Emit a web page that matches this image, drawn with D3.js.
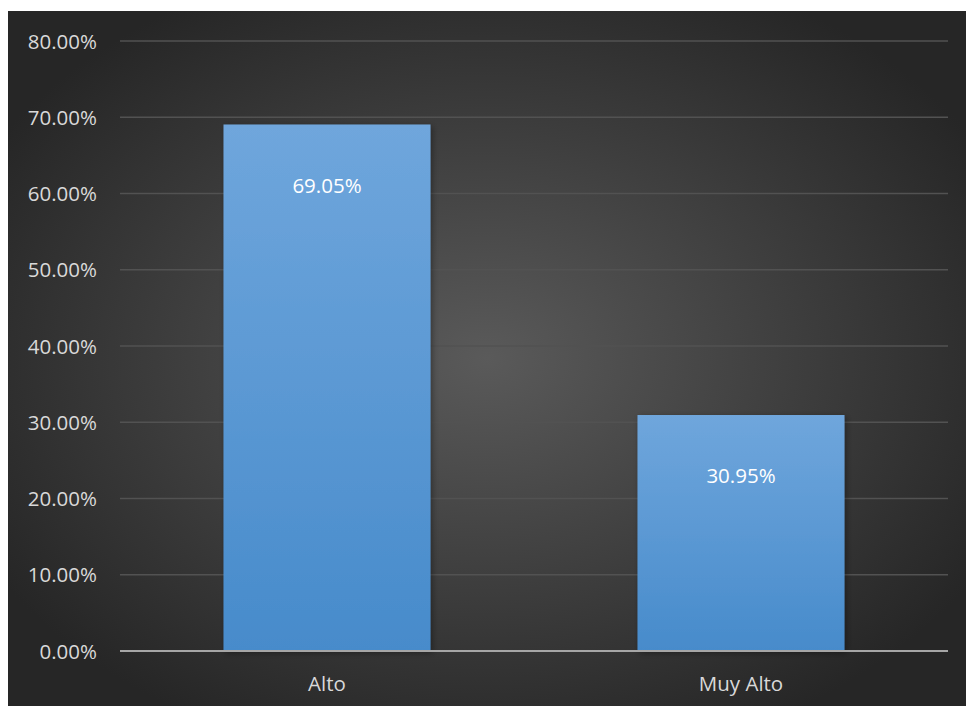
<!DOCTYPE html>
<html><head><meta charset="utf-8">
<script src="https://cdn.jsdelivr.net/npm/d3@7"></script>
<style>body{margin:0;background:#fff;}svg{display:block;}</style>
</head><body>
<script>
const categories = ["Alto", "Muy Alto"];
const values = [69.05, 30.95];
const tickValues = [0, 10, 20, 30, 40, 50, 60, 70, 80];

const W = 966, H = 706;
const svg = d3.select("body").append("svg").attr("width", W).attr("height", H);
const defs = svg.append("defs");
const rg = defs.append("radialGradient").attr("id", "bg").attr("cx", "50%").attr("cy", "50%").attr("r", "60%");
rg.append("stop").attr("offset", "0%").attr("stop-color", "#5a5a5a");
rg.append("stop").attr("offset", "100%").attr("stop-color", "#262626");
const lg = defs.append("linearGradient").attr("id", "bar").attr("x1", 0).attr("y1", 0).attr("x2", 0).attr("y2", 1);
lg.append("stop").attr("offset", "0%").attr("stop-color", "#6fa6dc");
lg.append("stop").attr("offset", "100%").attr("stop-color", "#478bcb");
const f = defs.append("filter").attr("id", "sh").attr("x", "-10%").attr("y", "-10%").attr("width", "130%").attr("height", "130%");
f.append("feDropShadow").attr("dx", 2).attr("dy", 2).attr("stdDeviation", 3).attr("flood-color", "#000").attr("flood-opacity", 0.35);

svg.append("rect").attr("x", 8).attr("y", 11).attr("width", W - 8).attr("height", H - 11).attr("fill", "url(#bg)");

const x = d3.scaleBand().domain(categories).range([120, 948]).paddingInner(0.5).paddingOuter(0.25);
const y = d3.scaleLinear().domain([0, 80]).range([651, 41]);

const font = "'Open Sans', 'Noto Sans', sans-serif";
const fs = 20.5;

svg.append("g").selectAll("line").data(tickValues.filter(d => d > 0)).join("line")
  .attr("x1", 120).attr("x2", 948).attr("y1", d => y(d)).attr("y2", d => y(d))
  .attr("stroke", "#525252").attr("stroke-width", 1.5);

const yAxis = d3.axisLeft(y).tickValues(tickValues).tickSize(0).tickPadding(0).tickFormat(d => d.toFixed(2) + "%");
const ga = svg.append("g").attr("transform", "translate(97,0)").call(yAxis);
ga.select(".domain").remove();
ga.selectAll("text").attr("fill", "#d9d9d9").attr("font-size", fs).attr("font-family", font).attr("dy", "0.35em");

svg.append("g").selectAll("rect").data(values).join("rect")
  .attr("x", (d, i) => x(categories[i])).attr("width", x.bandwidth())
  .attr("y", d => y(d)).attr("height", d => y(0) - y(d))
  .attr("fill", "url(#bar)").attr("filter", "url(#sh)");

svg.append("line").attr("x1", 120).attr("x2", 948).attr("y1", y(0)).attr("y2", y(0))
  .attr("stroke", "#a6a6a6").attr("stroke-width", 2);

svg.append("g").selectAll("text").data(values).join("text")
  .attr("x", (d, i) => x(categories[i]) + x.bandwidth() / 2).attr("y", d => y(d) + 61)
  .attr("dy", "0.35em")
  .attr("text-anchor", "middle").attr("fill", "#ffffff").attr("font-size", fs).attr("font-family", font)
  .text(d => d.toFixed(2) + "%");

const xAxis = d3.axisBottom(x).tickSize(0).tickPadding(0);
const gx = svg.append("g").attr("transform", "translate(0,684)").call(xAxis);
gx.select(".domain").remove();
gx.selectAll("text").attr("fill", "#d9d9d9").attr("font-size", fs).attr("font-family", font).attr("dy", "0.35em");
</script>
</body></html>
